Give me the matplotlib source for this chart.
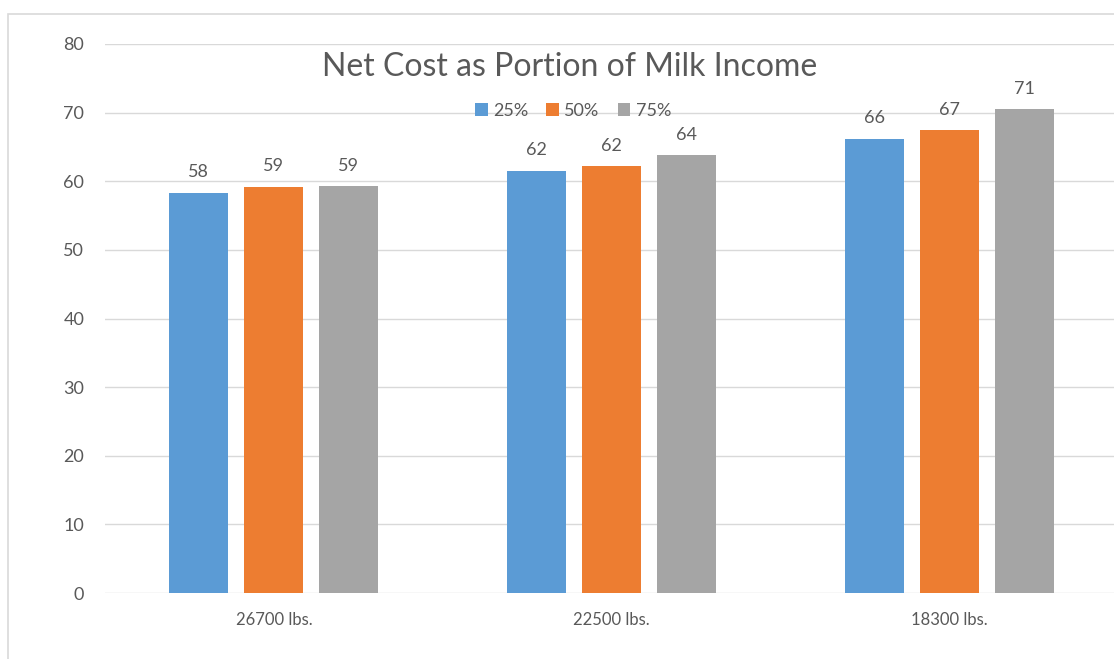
import numpy as np
import matplotlib.pyplot as plt
from matplotlib.patches import Rectangle

# chart data
categories = ['26700 lbs.', '22500 lbs.', '18300 lbs.']
series_names = ['25%', '50%', '75%']
vals_25 = [58.3, 61.5, 66.2]
vals_50 = [59.2, 62.2, 67.4]
vals_75 = [59.3, 63.8, 70.5]
labels_25 = ['58', '62', '66']
labels_50 = ['59', '62', '67']
labels_75 = ['59', '64', '71']
colors = ['#5B9BD5', '#ED7D31', '#A5A5A5']

plt.rcParams['font.family'] = ['Lato', 'DejaVu Sans']
txt = '#595959'

fig = plt.figure(figsize=(11.14, 6.59), dpi=100)
# outer chart border (partly cut off on right/bottom)
fig.patches.append(Rectangle((8 / 1114, -0.05), 1.2, 1 - 14 / 659 + 0.05,
                             transform=fig.transFigure, fill=False,
                             edgecolor='#d9d9d9', linewidth=1.2))

ax = fig.add_axes([105 / 1114, 66 / 659, 1013 / 1114, 549 / 659])

x = np.arange(len(categories))
width = 0.175
step = 0.222
all_vals = [vals_25, vals_50, vals_75]
all_labels = [labels_25, labels_50, labels_75]
for i, (vals, labs) in enumerate(zip(all_vals, all_labels)):
    pos = x + (i - 1) * step
    bars = ax.bar(pos, vals, width, color=colors[i], label=series_names[i], zorder=3)
    for b, lab in zip(bars, labs):
        ax.annotate(lab, (b.get_x() + b.get_width() / 2, b.get_height()),
                    xytext=(0, 9), textcoords='offset points',
                    ha='center', va='bottom', fontsize=13, color=txt)

ax.set_xlim(-0.5, 2.5)
ax.set_ylim(0, 80)
ax.set_yticks(range(0, 81, 10))
ax.set_xticks(x)
ax.set_xticklabels(categories)
ax.tick_params(axis='y', length=0, labelsize=13, labelcolor=txt, pad=15)
ax.tick_params(axis='x', length=0, labelsize=12, labelcolor=txt, pad=14)
ax.yaxis.grid(True, color='#d9d9d9', linewidth=1, zorder=0)
for s in ax.spines.values():
    s.set_visible(False)

fig.text(570 / 1114, 1 - 67 / 659, 'Net Cost as Portion of Milk Income',
         ha='center', va='center', fontsize=23, color=txt)
fig.legend(loc='center', bbox_to_anchor=(573 / 1114, 1 - 111 / 659), ncol=3,
           frameon=False, fontsize=13, labelcolor=txt, handlelength=0.7,
           handleheight=0.7, handletextpad=0.3, columnspacing=1.0)

fig.savefig('out.png', dpi=100)
